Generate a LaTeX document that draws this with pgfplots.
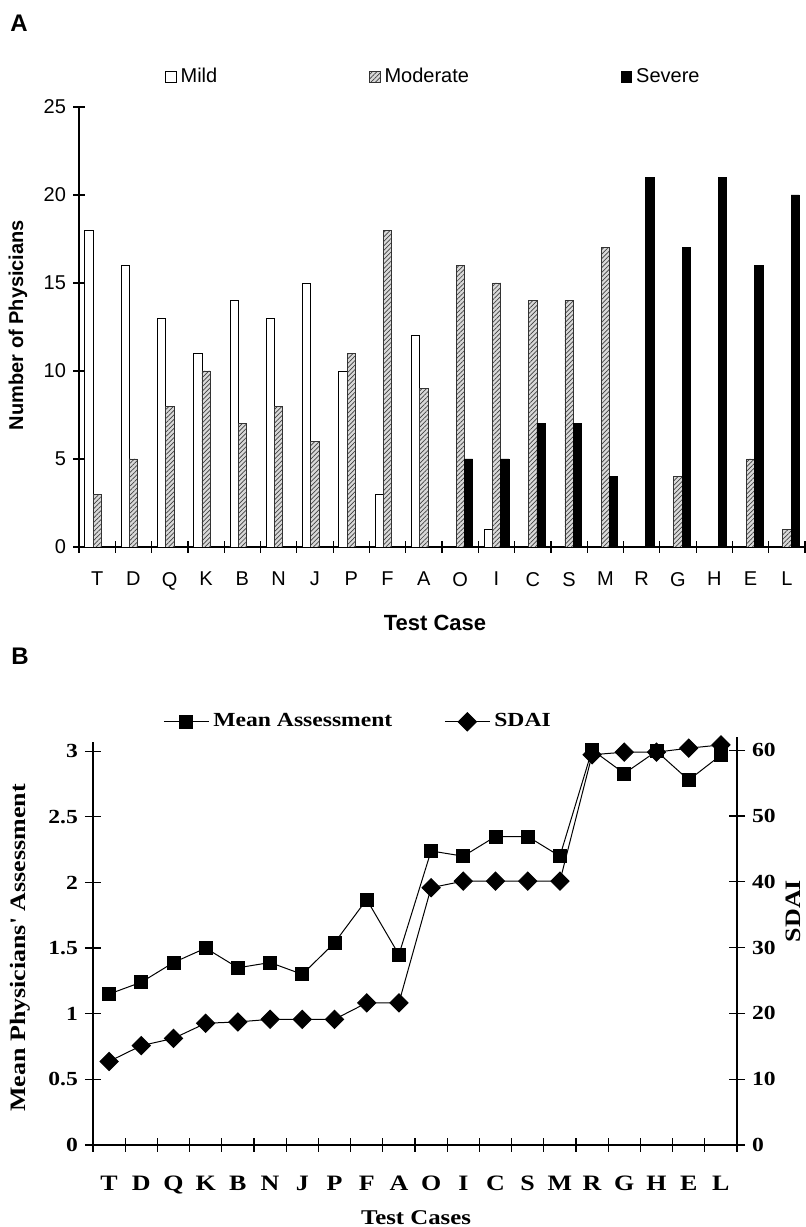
\documentclass[border=0pt]{standalone}
\usepackage{fontspec}
\setmainfont{Liberation Sans}
\newfontfamily\serifb[FakeStretch=1.18]{Liberation Serif}
\usepackage{pgfplots}
\pgfplotsset{compat=1.18}
\usetikzlibrary{patterns.meta}

% test cases in plotting order
\pgfplotstableread{
x mild mod sev mean sdai
0  18 3  0  1.15 12.7
1  16 5  0  1.24 15.1
2  13 8  0  1.39 16.2
3  11 10 0  1.50 18.5
4  14 7  0  1.35 18.7
5  13 8  0  1.39 19.1
6  15 6  0  1.30 19.1
7  10 11 0  1.54 19.1
8  3  18 0  1.87 21.6
9  12 9  0  1.45 21.6
10 0  16 5  2.24 39.1
11 1  15 5  2.20 40.1
12 0  14 7  2.35 40.1
13 0  14 7  2.35 40.1
14 0  17 4  2.20 40.1
15 0  0  21 3.01 59.3
16 0  4  17 2.83 59.7
17 0  0  21 3.00 59.7
18 0  5  16 2.78 60.3
19 0  1  20 2.97 60.8
}\data

\begin{document}
\begin{tikzpicture}
% ---------------- panel A
\begin{axis}[
  at={(39.5pt,340pt)}, anchor=south west,
  scale only axis, width=363pt, height=220pt,
  ybar=0pt, bar width=4.15pt,
  xmin=-0.5, xmax=19.5, ymin=0, ymax=25,
  ytick={0,5,...,25},
  xtick={-0.5,0.5,...,19.5},
  x tick label as interval,
  xticklabels={T,D,Q,K,B,N,J,P,F,A,O,I,C,S,M,R,G,H,E,L},
  axis x line*=bottom, axis y line*=left,
  axis line style={-, line width=0.6pt},
  tick align=center, major tick length=6pt,
  tick style={black, line width=0.6pt},
  tick label style={font=\fontsize{10}{12}\selectfont},
  xticklabel style={yshift=-6pt},
  /pgf/number format/assume math mode=true,
  unbounded coords=discard,
  y filter/.expression={y==0 ? nan : y},
  legend style={at={(axis description cs:0.1185,1.068)}, anchor=west,
    draw=none, inner sep=0pt, legend columns=3,
    font=\fontsize{10}{12}\selectfont,
    /tikz/every even column/.append style={column sep=74pt}},
  legend image code/.code={\draw[#1] (0pt,-2.6pt) rectangle (5.2pt,2.6pt);},
]
\addplot[draw=black, line width=0.4pt, fill=white] table[x=x,y=mild]{\data};
\addplot[draw=black!80, line width=0.4pt, fill=gray!30,
  postaction={pattern={Lines[angle=45,distance=1.6pt,line width=0.35pt]}, pattern color=black!75}]
  table[x=x,y=mod]{\data};
\addplot[draw=black, line width=0.4pt, fill=black] table[x=x,y=sev]{\data};
\legend{Mild,Moderate,Severe}
\end{axis}

% ---------------- panel B, left axis
\begin{axis}[
  at={(46.5pt,41pt)}, anchor=south west,
  scale only axis, width=322pt, height=201.5pt,
  xmin=-0.5, xmax=19.5, ymin=0, ymax=3.07,
  ytick={0,0.5,...,3},
  xtick={-0.5,0.5,...,19.5},
  x tick label as interval,
  xticklabels={T,D,Q,K,B,N,J,P,F,A,O,I,C,S,M,R,G,H,E,L},
  axis x line*=bottom, axis y line*=left,
  axis line style={-, line width=0.6pt},
  tick align=center, major tick length=8pt,
  tick style={black, line width=0.6pt},
  xtick style={/pgfplots/major tick length=6.5pt},
  tick label style={font=\serifb\bfseries\fontsize{10}{12}\selectfont},
  xticklabel style={font=\serifb\bfseries\fontsize{11}{13}\selectfont, yshift=-8pt},
  /pgf/number format/assume math mode=true,
  legend style={at={(axis description cs:0.1087,1.05)}, anchor=west,
    draw=none, inner sep=0pt, legend columns=2,
    font=\serifb\bfseries\fontsize{10}{12}\selectfont,
    /tikz/every even column/.append style={column sep=24pt}},
  legend image code/.code={\draw[mark repeat=2,mark phase=2,#1]
    plot coordinates {(0pt,0pt) (11.25pt,0pt) (22.5pt,0pt)};},
]
\addplot[black, line width=0.5pt, mark=square*, mark size=3.25pt]
  table[x=x,y=mean]{\data};
\addlegendentry{Mean Assessment}
\addlegendimage{black, line width=0.5pt, mark=square*, mark size=3.2pt, mark options={rotate=45}}
\addlegendentry{SDAI}
\end{axis}

% ---------------- panel B, right axis
\begin{axis}[
  at={(46.5pt,41pt)}, anchor=south west,
  scale only axis, width=322pt, height=204pt,
  xmin=-0.5, xmax=19.5, ymin=0, ymax=62,
  ytick={0,10,...,60},
  axis x line=none, axis y line*=right,
  axis line style={-, line width=0.6pt},
  tick align=center, major tick length=8pt,
  tick style={black, line width=0.6pt},
  tick label style={font=\serifb\bfseries\fontsize{10}{12}\selectfont},
  /pgf/number format/assume math mode=true,
]
\addplot[black, line width=0.5pt, mark=square*, mark size=3.2pt, mark options={rotate=45}]
  table[x=x,y=sdai]{\data};
\end{axis}

% ---------------- titles and labels
\node[font=\bfseries\fontsize{12}{14}\selectfont] at (9.5pt,601.75pt) {A};
\node[font=\bfseries\fontsize{12}{14}\selectfont] at (10pt,285.25pt) {B};
\node[rotate=90, font=\bfseries\fontsize{10}{12}\selectfont] at (9pt,451pt) {Number of Physicians};
\node[font=\bfseries\fontsize{11}{13}\selectfont] at (217.5pt,302pt) {Test Case};
\node[rotate=90, font=\serifb\bfseries\fontsize{11}{13}\selectfont] at (10pt,139.5pt) {Mean Physicians' Assessment};
\node[rotate=90, font=\serifb\bfseries\fontsize{11}{13}\selectfont, inner sep=0pt] at (396.5pt,158pt) {SDAI};
\node[font=\serifb\bfseries\fontsize{10.5}{12}\selectfont] at (208pt,4.5pt) {Test Cases};

\pgfresetboundingbox
\path[use as bounding box] (0,0) rectangle (402.5pt,613.5pt);
\end{tikzpicture}
\end{document}
